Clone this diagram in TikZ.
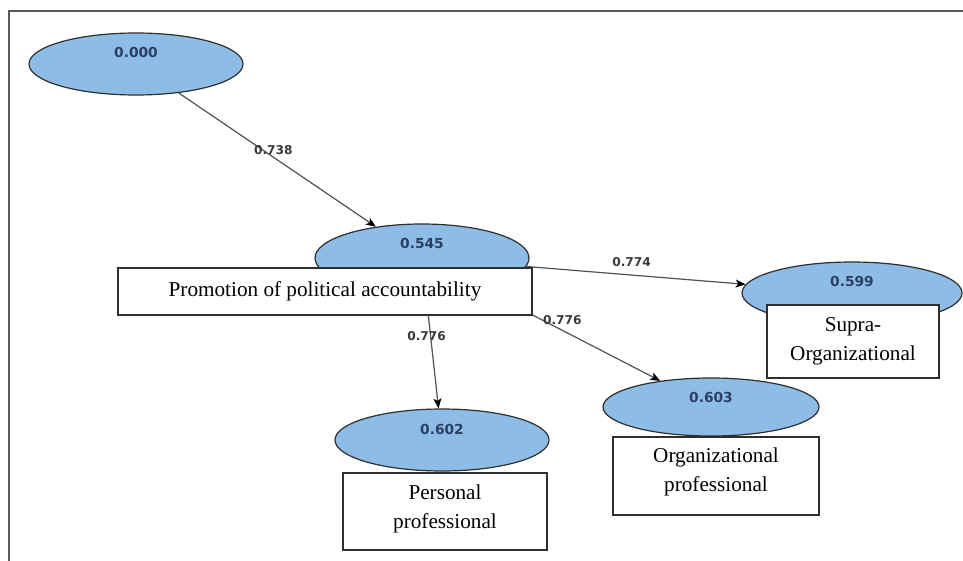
\documentclass[tikz,border=0pt]{standalone}
\usepackage{fontspec}
\setmainfont{Liberation Serif}
\newfontfamily\numfont{DejaVu Sans}
\usetikzlibrary{shapes.geometric,arrows.meta}
\pgfdeclarelayer{bg}
\pgfsetlayers{bg,main}
\definecolor{ellfill}{HTML}{8DBDE6}
\definecolor{numcol}{HTML}{2B3F62}
\definecolor{labcol}{HTML}{3A3A3A}
\definecolor{linecol}{HTML}{505050}
\definecolor{edgecol}{HTML}{2E2E2E}
\definecolor{framecol}{HTML}{5A5A5A}
\begin{document}
\begin{tikzpicture}[x=1pt,y=-1pt,
  latent/.style={ellipse, draw=edgecol, line width=1.2pt, fill=ellfill, inner sep=0pt},
  numlab/.style={font=\numfont\bfseries\fontsize{13.8}{16}\selectfont, text=numcol, inner sep=0pt},
  boxst/.style={rectangle, draw=edgecol, line width=1.2pt, fill=white, align=center,
    font=\fontsize{21.2}{29}\selectfont, inner sep=0pt},
  boxtxt/.style={align=center, font=\fontsize{21.2}{29}\selectfont, inner sep=0pt},
  conn/.style={draw=linecol, line width=1.2pt, -{Stealth[length=10pt,width=8pt,inset=2.5pt,color=black]}},
  elab/.style={font=\numfont\bfseries\fontsize{12.2}{14}\selectfont, text=labcol, inner sep=0pt}
]
\path[use as bounding box] (0,0) rectangle (963,561);
\draw[framecol, line width=1.6pt] (963,11) -- (9,11) -- (9,561);

% latent variables
\node[latent, minimum width=214pt, minimum height=62pt,
  label={[numlab, yshift=12pt]center:0.000}] (e0) at (136,64) {};
\node[latent, minimum width=214pt, minimum height=68pt,
  label={[numlab, yshift=15pt]center:0.545}] (e1) at (422,258) {};
\node[latent, minimum width=220pt, minimum height=62pt,
  label={[numlab, yshift=12pt]center:0.599}] (e2) at (852,293) {};
\node[latent, minimum width=216pt, minimum height=58pt,
  label={[numlab, yshift=10pt]center:0.603}] (e3) at (711,407) {};
\node[latent, minimum width=214pt, minimum height=62pt,
  label={[numlab, yshift=11pt]center:0.602}] (e4) at (442,440) {};

% text boxes
\node[boxst, minimum width=414pt, minimum height=47pt] (r1) at (325,291.5)
  {Promotion of political accountability};
\node[boxst, minimum width=172pt, minimum height=73pt] (r2) at (853,341.5)
  {Supra-\\Organizational};
\node[boxst, minimum width=206pt, minimum height=78pt,
  label={[boxtxt, yshift=4pt]center:Organizational\\professional}] (r3) at (716,476) {};
\node[boxst, minimum width=204pt, minimum height=77pt,
  label={[boxtxt, yshift=3pt]center:Personal\\professional}] (r4) at (445,511.5) {};

% connectors
\begin{pgfonlayer}{bg}
\draw[conn] (e0) -- node[elab, pos=0.48, yshift=7pt] (l1) {0.738} (e1);
\draw[conn] (e1) -- node[elab, pos=0.48, yshift=13pt] (l2) {0.774} (e2);
\draw[conn] (e1) -- node[elab, pos=0.46, yshift=10pt] (l3) {0.776} (e3);
\draw[conn] (e1) -- node[elab, pos=0.376, xshift=-4pt] (l4) {0.776} (e4);
\end{pgfonlayer}
\end{tikzpicture}
\end{document}
